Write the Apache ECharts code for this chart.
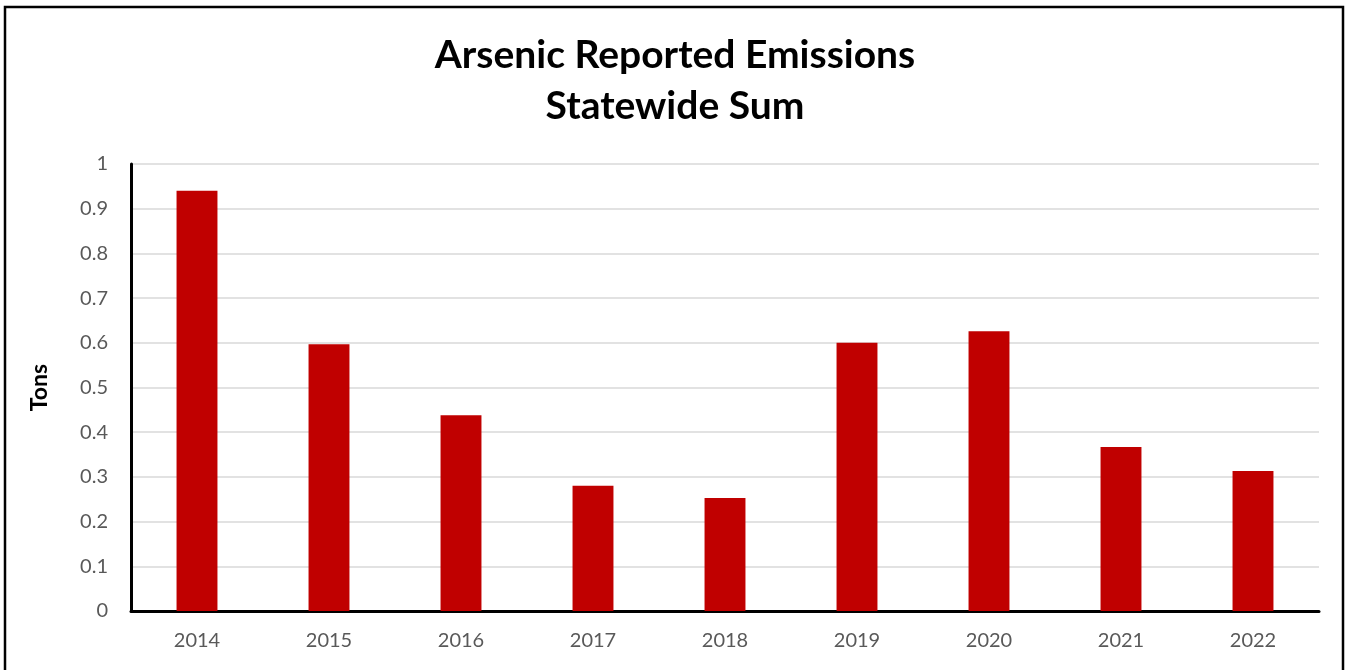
<!DOCTYPE html>
<html>
<head>
<meta charset="utf-8">
<script src="https://cdn.jsdelivr.net/npm/echarts@6/dist/echarts.min.js"></script>
<style>
  html, body { margin: 0; padding: 0; background: #fff; }
  #chart { width: 1350px; height: 670px; }
</style>
</head>
<body>
<div id="chart"></div>
<script>
// values
const years = ['2014', '2015', '2016', '2017', '2018', '2019', '2020', '2021', '2022']
const tons = [0.940, 0.597, 0.438, 0.280, 0.253, 0.600, 0.626, 0.367, 0.313]

const FONT = 'Lato, "Open Sans", sans-serif'

var chart = echarts.init(document.getElementById('chart'))

chart.setOption({
  animation: false,
  title: {
    text: 'Arsenic Reported Emissions\nStatewide Sum',
    left: 'center',
    top: 25,
    textStyle: {
      fontFamily: FONT,
      fontSize: 39,
      fontWeight: 'bold',
      color: '#000',
      lineHeight: 51
    }
  },
  graphic: [{
    type: 'rect',
    shape: { x: 5, y: 7, width: 1338, height: 700 },
    style: { fill: 'none', stroke: '#000', lineWidth: 2.5 },
    z: 100
  }],
  grid: {
    left: 131,
    top: 164,
    right: 31,
    bottom: 59
  },
  xAxis: {
    type: 'category',
    data: years,
    axisLine: { lineStyle: { color: '#000', width: 3 } },
    axisTick: { show: false },
    axisLabel: {
      margin: 20,
      fontFamily: FONT,
      fontSize: 20,
      color: '#595959'
    }
  },
  yAxis: {
    type: 'value',
    min: 0,
    max: 1,
    interval: 0.1,
    name: 'Tons',
    nameLocation: 'middle',
    nameGap: 80,
    nameTextStyle: {
      fontFamily: FONT,
      fontSize: 23,
      fontWeight: 'bold',
      color: '#000'
    },
    axisLine: { show: true, lineStyle: { color: '#000', width: 3 } },
    axisTick: { show: false },
    axisLabel: {
      margin: 23,
      fontFamily: FONT,
      fontSize: 20,
      color: '#595959',
      formatter: v => String(Math.round(v * 10) / 10)
    },
    splitLine: { lineStyle: { color: '#D9D9D9', width: 1.5 } }
  },
  series: [{
    type: 'bar',
    data: tons,
    barWidth: '31%',
    itemStyle: { color: '#C00000' }
  }]
})
</script>
</body>
</html>
